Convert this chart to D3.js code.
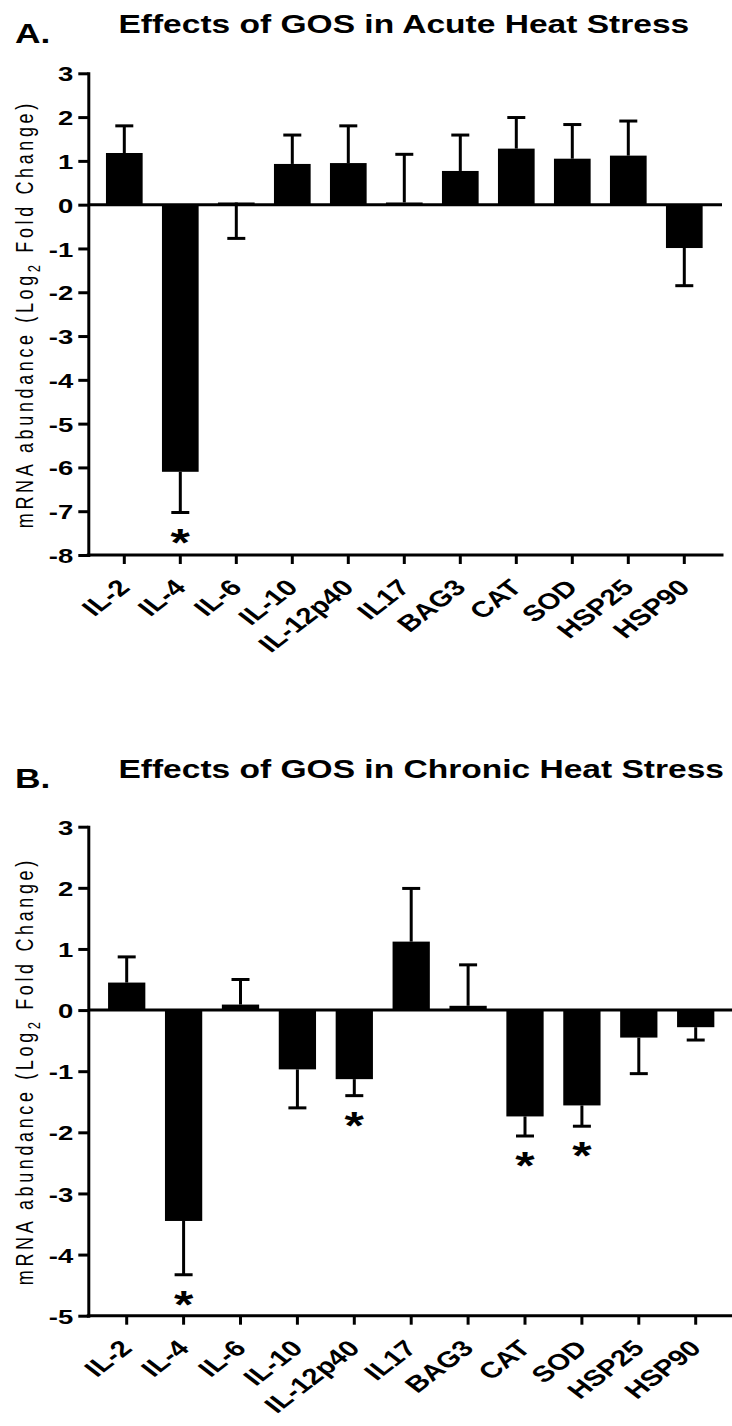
<!DOCTYPE html>
<html><head><meta charset="utf-8">
<script src="https://cdn.jsdelivr.net/npm/d3@7"></script>
<style>body{margin:0;background:#fff}</style>
</head><body>
<script>
// ---------- data ----------
const categories = ["IL-2","IL-4","IL-6","IL-10","IL-12p40","IL17","BAG3","CAT","SOD","HSP25","HSP90"];
const acuteMean   = [1.18,-6.10, 0.05, 0.93, 0.95, 0.05, 0.77, 1.28, 1.05, 1.12,-0.99];
const acuteErrTip = [1.80,-7.03,-0.77, 1.59, 1.80, 1.15, 1.59, 1.99, 1.83, 1.91,-1.85];
const acuteSignificant = ["IL-4"];
const chronicMean   = [0.45,-3.45, 0.09,-0.97,-1.13, 1.12, 0.07,-1.74,-1.56,-0.45,-0.28];
const chronicErrTip = [0.87,-4.33, 0.50,-1.60,-1.40, 1.99, 0.74,-2.06,-1.90,-1.04,-0.49];
const chronicSignificant = ["IL-4","IL-12p40","CAT","SOD"];
const acuteTicks   = [3,2,1,0,-1,-2,-3,-4,-5,-6,-7,-8];
const chronicTicks = [3,2,1,0,-1,-2,-3,-4,-5];
const titles = ["Effects of GOS in Acute Heat Stress","Effects of GOS in Chronic Heat Stress"];
const panelLetters = ["A.","B."];
const yLabelMain = "mRNA abundance (Log";
const yLabelSub = "2";
const yLabelEnd = " Fold Change)";

// ---------- layout ----------
const W = 732, H = 1426, SX = 1.31;
const FONT = "'Liberation Sans', Arial, Helvetica, sans-serif";
const AX = 88.3;
const svg = d3.select("body").append("svg").attr("width", W).attr("height", H)
  .style("font-family", FONT);

const panels = [
  {mean: acuteMean, tip: acuteErrTip, sig: acuteSignificant, ticks: acuteTicks, domain: [-8,3],
   yTop: 73.3, yBot: 555, band: [96.3, 712.3], axisEnd: 722, titleY: 33.3, letterY: 43, title: titles[0], letter: panelLetters[0]},
  {mean: chronicMean, tip: chronicErrTip, sig: chronicSignificant, ticks: chronicTicks, domain: [-5,3],
   yTop: 826.7, yBot: 1315.7, band: [98.25, 724.15], axisEnd: 740, titleY: 778, letterY: 788, title: titles[1], letter: panelLetters[1]}
];

panels.forEach(p => {
  const g = svg.append("g");
  const y = d3.scaleLinear().domain(p.domain).range([p.yBot, p.yTop]);
  const x = d3.scaleBand().domain(categories).range(p.band).paddingInner(0.345).paddingOuter(0.1725);

  // titles
  g.append("text").attr("transform", `translate(118.4,${p.titleY}) scale(${SX},1)`)
    .attr("font-size", 25.6).attr("font-weight", "bold").text(p.title);
  g.append("text").attr("transform", `translate(15,${p.letterY}) scale(${SX},1)`)
    .attr("font-size", 27).attr("font-weight", "bold").text(p.letter);

  // y label (letter-spaced to span 428px)
  const yl = g.append("text")
    .attr("transform", `translate(33,${(p.yTop + p.yBot) / 2}) scale(${SX},1) rotate(-90)`)
    .attr("text-anchor", "middle").attr("font-size", 18);
  yl.append("tspan").text(yLabelMain);
  yl.append("tspan").attr("dy", 5).attr("font-size", 13).text(yLabelSub);
  yl.append("tspan").attr("dy", -5).text(yLabelEnd);
  const natural = yl.node().getComputedTextLength();
  const nChars = (yLabelMain + yLabelSub + yLabelEnd).length;
  yl.attr("letter-spacing", (428 - natural) / nChars);

  // bars
  const data = categories.map((c, i) => ({c, m: p.mean[i], t: p.tip[i]}));
  g.selectAll("rect.bar").data(data).join("rect").attr("class", "bar")
    .attr("x", d => x(d.c)).attr("width", x.bandwidth())
    .attr("y", d => y(Math.max(0, d.m))).attr("height", d => Math.abs(y(d.m) - y(0)))
    .attr("fill", "#000");

  // error bars
  const capW = 18;
  g.selectAll("line.err").data(data).join("line").attr("class", "err")
    .attr("x1", d => x(d.c) + x.bandwidth() / 2).attr("x2", d => x(d.c) + x.bandwidth() / 2)
    .attr("y1", d => y(d.m)).attr("y2", d => y(d.t))
    .attr("stroke", "#000").attr("stroke-width", 3);
  g.selectAll("line.cap").data(data).join("line").attr("class", "cap")
    .attr("x1", d => x(d.c) + x.bandwidth() / 2 - capW / 2).attr("x2", d => x(d.c) + x.bandwidth() / 2 + capW / 2)
    .attr("y1", d => y(d.t)).attr("y2", d => y(d.t))
    .attr("stroke", "#000").attr("stroke-width", 3);

  // significance stars
  g.selectAll("text.star").data(data.filter(d => p.sig.includes(d.c))).join("text").attr("class", "star")
    .attr("transform", d => `translate(${x(d.c) + x.bandwidth() / 2},${y(d.t) + 21 + 22}) scale(${SX},1)`)
    .attr("text-anchor", "middle").attr("font-size", 38).attr("font-weight", "bold").text("*");

  // zero line
  g.append("line").attr("x1", AX).attr("x2", p.axisEnd).attr("y1", y(0)).attr("y2", y(0))
    .attr("stroke", "#000").attr("stroke-width", 3);

  // y axis
  const ya = g.append("g").attr("transform", `translate(${AX},0)`)
    .call(d3.axisLeft(y).tickValues(p.ticks).tickSize(10).tickSizeOuter(0).tickPadding(5).tickFormat(d => String(d)));
  ya.select(".domain").attr("stroke-width", 3).attr("stroke-linecap", "square");
  ya.selectAll(".tick line").attr("stroke-width", 3);
  ya.selectAll(".tick text").attr("x", 0).attr("dy", "0.36em")
    .attr("transform", `translate(-15,0) scale(${SX},1)`)
    .attr("font-size", 21).attr("font-weight", "bold").attr("font-family", FONT).attr("fill", "#000");

  // x axis
  const xa = g.append("g").attr("transform", `translate(0,${p.yBot})`)
    .call(d3.axisBottom(x).tickSize(9).tickSizeOuter(0));
  xa.select(".domain").remove();
  xa.selectAll(".tick line").attr("stroke-width", 3);
  xa.selectAll(".tick text").attr("y", 0).attr("dy", 0)
    .attr("transform", `translate(7,34) scale(${SX},1) rotate(-45)`)
    .style("text-anchor", "end")
    .attr("font-size", 22.5).attr("font-weight", "bold").attr("font-family", FONT).attr("fill", "#000");
  g.append("line").attr("x1", AX).attr("x2", p.axisEnd).attr("y1", p.yBot).attr("y2", p.yBot)
    .attr("stroke", "#000").attr("stroke-width", 3).attr("stroke-linecap", "square");
});
</script>
</body></html>
